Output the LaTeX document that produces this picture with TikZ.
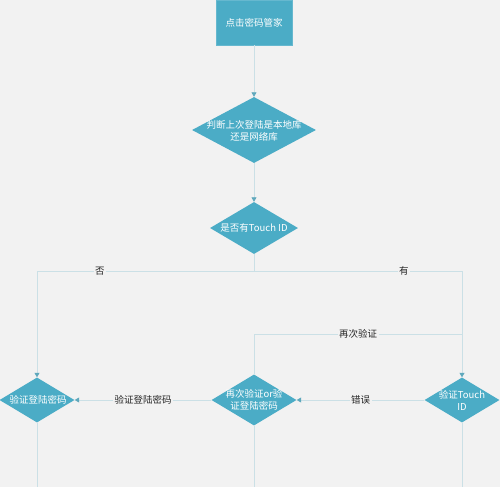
\documentclass[tikz,border=0pt]{standalone}
\usepackage{fontspec}
\setmainfont{Noto Sans CJK SC}
\usepackage{tikz}
\usetikzlibrary{shapes.geometric,arrows.meta}
\definecolor{flowfill}{RGB}{75,172,198}
\definecolor{flowline}{RGB}{203,224,230}
\definecolor{flowtip}{RGB}{95,168,188}
\definecolor{canvas}{RGB}{242,242,242}
\tikzset{
  dia/.style={diamond, fill=flowfill, inner sep=0pt},
  intext/.style={text=white, align=center, inner sep=0pt, font=\fontsize{9.5}{12}\selectfont},
  conn/.style={draw=flowline, line width=0.8pt},
  arr/.style={conn, -{Triangle[width=5pt,length=4.5pt,color=flowtip]}},
  lbl/.style={fill=canvas, text=black!85, inner sep=1.5pt, font=\fontsize{9.5}{12}\selectfont}
}

\begin{document}
\begin{tikzpicture}[x=1pt,y=-1pt]
    \fill[canvas] (0,0) rectangle (500,487);
    \useasboundingbox (0,0) rectangle (500,487);
    \coordinate (bottom) at (0,487);

    % boxes
    \node[fill=flowfill, draw=flowfill!85!white, minimum width=76pt, minimum height=45pt] (start) at (254,22.5) {};
    \node[dia, minimum width=124pt, minimum height=66pt] (judge) at (254,130) {};
    \node[dia, minimum width=88pt, minimum height=52pt] (touch) at (254,228) {};
    \node[dia, minimum width=75pt, minimum height=45pt] (pwd) at (37,400) {};
    \node[dia, minimum width=85pt, minimum height=51pt] (retry) at (254,400) {};
    \node[dia, minimum width=75pt, minimum height=45pt] (tid) at (462,400) {};

    \node[intext] (start-t) at (start) {点击密码管家};
    \node[intext] (judge-t) at (254,131) {判断上次登陆是本地库\\还是网络库};
    \node[intext] (touch-t) at (touch) {是否有Touch ID};
    \node[intext] (pwd-t) at (38,400) {验证登陆密码};
    \node[intext] (retry-t) at (retry) {再次验证or验\\证登陆密码};
    \node[intext] (tid-t) at (tid) {验证Touch\\ID};

    % connectors
    \coordinate (split) at (254,271);
    \coordinate (join) at (462,334);
    \draw[arr] (start) -- (judge);
    \draw[arr] (judge) -- (touch);
    \draw[conn] (touch.south) -- (split);
    \draw[arr] (split) -| node[lbl, pos=0.355] (no-l) {否} (pwd.north);
    \draw[arr] (split) -| node[lbl, pos=0.36] (yes-l) {有} (tid.north);
    \draw[conn] (retry.north) |- node[lbl, pos=0.75] (again-l) {再次验证} (join);
    \draw[arr] (tid.west) -- node[lbl] (err-l) {错误} (retry.east);
    \draw[arr] (retry.west) -- node[lbl] (pw-l) {验证登陆密码} (pwd.east);
    \foreach \n in {pwd,retry,tid} {
        \draw[conn] (\n.south) -- (\n.south |- bottom);
    }
\end{tikzpicture}
\end{document}
